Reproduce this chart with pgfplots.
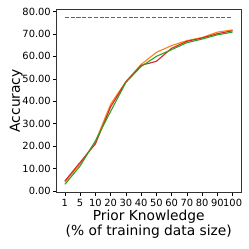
\documentclass[border=0pt]{standalone}
\usepackage{fontspec}
\setmainfont{DejaVu Sans}
\usepackage{pgfplots}
\pgfplotsset{compat=1.18}
\definecolor{tabblue}{HTML}{1F77B4}
\definecolor{taborange}{HTML}{FF7F0E}
\definecolor{tabgreen}{HTML}{2CA02C}
\definecolor{tabred}{HTML}{D62728}
\begin{document}
\begin{tikzpicture}
\begin{axis}[
  scale only axis,
  width=184.5pt, height=183.7pt,
  xmin=-0.55, xmax=11.55,
  ymin=-0.72, ymax=81.1,
  xtick={0,1,2,3,4,5,6,7,8,9,10,11},
  xticklabels={1,5,10,20,30,40,50,60,70,80,90,100},
  ytick={0,10,20,30,40,50,60,70,80},
  yticklabel={\pgfmathprintnumber[fixed,fixed zerofill,precision=2]{\tick}},
  /pgf/number format/assume math mode=true,
  tick align=outside,
  major tick length=3.5pt,
  xtick pos=left, ytick pos=left,
  tick style={black, line width=0.6pt},
  axis line style={black!80, line width=0.7pt},
  ticklabel style={font=\fontsize{9.9}{11}\selectfont},
  yticklabel style={inner sep=2pt},
  xticklabel style={inner sep=2.5pt},
  xlabel={Prior Knowledge\\(\% of training data size)},
  ylabel={Accuracy},
  xlabel style={font=\fontsize{13.8}{15}\selectfont, align=center, at={(axis description cs:0.5,-0.095)}, anchor=north, inner sep=0pt},
  ylabel style={font=\fontsize{13.8}{15}\selectfont, at={(axis description cs:-0.218,0.5)}, anchor=center, inner sep=0pt},
]
\addplot[tabblue, line width=1.2pt, dash pattern=on 4pt off 1.8pt] coordinates {(0,77.4) (1,77.4) (2,77.4) (3,77.4) (4,77.4) (5,77.4) (6,77.4) (7,77.4) (8,77.4) (9,77.4) (10,77.4) (11,77.4)};
\addplot[taborange, line width=1.1pt] coordinates {(0,4.0) (1,12.2) (2,22.0) (3,38.7) (4,48.8) (5,56.4) (6,61.8) (7,64.8) (8,67.0) (9,68.4) (10,70.8) (11,71.8)};
\addplot[tabred, line width=1.1pt] coordinates {(0,4.5) (1,12.8) (2,21.0) (3,37.5) (4,48.6) (5,56.0) (6,57.8) (7,63.6) (8,66.7) (9,68.2) (10,70.1) (11,71.4)};
\addplot[tabgreen, line width=1.1pt] coordinates {(0,3.0) (1,11.2) (2,22.3) (3,35.5) (4,48.4) (5,55.5) (6,60.0) (7,63.0) (8,66.1) (9,67.7) (10,69.6) (11,70.8)};
\end{axis}
\pgfresetboundingbox
\useasboundingbox ([xshift=-56.5pt,yshift=-56.3pt]current axis.south west) rectangle ([xshift=8pt,yshift=9pt]current axis.north east);
\end{tikzpicture}
\end{document}
